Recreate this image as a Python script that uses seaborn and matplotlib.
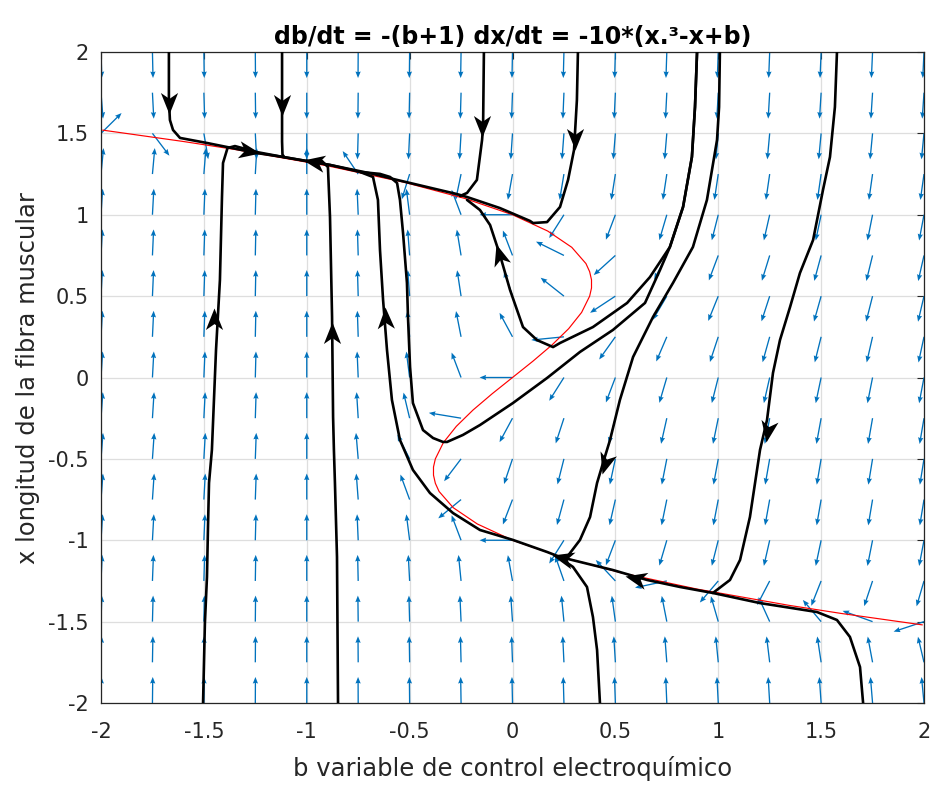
import numpy as np
import pandas as pd
import matplotlib
matplotlib.use("Agg")
import matplotlib.pyplot as plt
import seaborn as sns
from matplotlib.markers import MarkerStyle
from matplotlib.path import Path
from matplotlib.transforms import Affine2D

# ---------------- data ----------------
# grid of the direction field (b on horizontal axis, x on vertical axis)
b_grid = [-2.0, -1.75, -1.5, -1.25, -1.0, -0.75, -0.5, -0.25, 0.0,
          0.25, 0.5, 0.75, 1.0, 1.25, 1.5, 1.75, 2.0]
x_grid = [-2.0, -1.75, -1.5, -1.25, -1.0, -0.75, -0.5, -0.25, 0.0,
          0.25, 0.5, 0.75, 1.0, 1.25, 1.5, 1.75, 2.0]

# red nullcline
red_x = [1.52, 1.45, 1.4, 1.3, 1.2, 1.1, 1.0, 0.9, 0.8, 0.7, 0.65, 0.6, 0.55, 0.5,
         0.4, 0.3, 0.2, 0.1, 0.0, -0.1, -0.2, -0.3, -0.4, -0.5, -0.55, -0.6, -0.65,
         -0.7, -0.8, -0.9, -1.0, -1.1, -1.2, -1.3, -1.4, -1.45, -1.52]
red_b = [-1.992, -1.599, -1.344, -0.897, -0.528, -0.231, 0.0, 0.171, 0.288, 0.357,
         0.375, 0.384, 0.384, 0.375, 0.336, 0.273, 0.192, 0.099, 0.0, -0.099, -0.192,
         -0.273, -0.336, -0.375, -0.384, -0.384, -0.375, -0.357, -0.288, -0.171, 0.0,
         0.231, 0.528, 0.897, 1.344, 1.599, 1.992]

# black trajectories
t1_b = [-1.67, -1.67, -1.665, -1.65, -1.616, -1.485, -1.242, -1.115, -1.0]
t1_x = [2.0, 1.705, 1.582, 1.521, 1.472, 1.441, 1.379, 1.355, 1.33]

t2_b = [-1.12, -1.12, -1.118, -1.11]
t2_x = [2.0, 1.45, 1.37, 1.355]

t3_b = [-1.504, -1.495, -1.485, -1.48, -1.475, -1.461, -1.441, -1.422, -1.412, -1.407,
        -1.385, -1.349, -1.242, -1.115, -1.0]
t3_x = [-2.0, -1.508, -1.226, -0.919, -0.648, -0.445, 0.169, 0.599, 1.109, 1.318,
        1.41, 1.422, 1.385, 1.355, 1.33]

t4_b = [-0.848, -0.853, -0.863, -0.868, -0.872, -0.877, -0.887, -0.897, -0.926, -1.0]
t4_x = [-2.0, -1.103, -0.648, -0.445, -0.243, 0.372, 0.986, 1.293, 1.33, 1.33]

t5_b = [1.704, 1.689, 1.64, 1.577, 1.48, 1.203, 0.974, 0.814, 0.654, 0.488, 0.231,
        0.168, 0.002, -0.158, -0.289, -0.401, -0.484, -0.547, -0.586, -0.61, -0.629,
        -0.644, -0.654, -0.678, -0.741, -0.887, -1.0]
t5_x = [-2.0, -1.779, -1.594, -1.49, -1.441, -1.386, -1.324, -1.287, -1.244, -1.183,
        -1.103, -1.072, -0.998, -0.937, -0.833, -0.71, -0.568, -0.384, -0.138, 0.169,
        0.476, 0.783, 1.091, 1.232, 1.263, 1.306, 1.33]

t6_b = [-0.139, -0.143, -0.148, -0.173, -0.221, -0.255]
t6_x = [2.0, 1.538, 1.459, 1.214, 1.134, 1.115]

t7_b = [0.318, 0.313, 0.299, 0.27, 0.231, 0.168, 0.1, 0.085, -0.061, -0.221, -0.27,
        -0.561, -0.678, -0.887, -1.0]
t7_x = [2.0, 1.705, 1.398, 1.214, 1.048, 0.955, 0.949, 0.962, 1.041, 1.109, 1.127,
        1.214, 1.251, 1.306, 1.33]

t8_b = [0.897, 0.887, 0.872, 0.829, 0.765, 0.668, 0.557, 0.391, 0.231, 0.197, 0.119,
        0.051, -0.012, -0.061, -0.109, -0.158, -0.221]
t8_x = [2.0, 1.662, 1.355, 1.048, 0.802, 0.617, 0.458, 0.31, 0.212, 0.187, 0.23,
        0.31, 0.538, 0.753, 0.937, 1.029, 1.091]

t9_b = [0.897, 0.887, 0.872, 0.829, 0.765, 0.717, 0.644, 0.488, 0.328, 0.168, 0.002,
        -0.158, -0.241, -0.318, -0.338, -0.386, -0.435, -0.484, -0.498, -0.508, -0.513,
        -0.532, -0.547, -0.561, -0.595, -0.644, -0.741]
t9_x = [2.0, 1.662, 1.355, 1.048, 0.802, 0.661, 0.458, 0.292, 0.157, -0.003, -0.157,
        -0.292, -0.353, -0.396, -0.396, -0.372, -0.323, -0.157, 0.065, 0.372, 0.581,
        0.888, 1.091, 1.195, 1.232, 1.251, 1.263]

t10_b = [1.577, 1.567, 1.543, 1.509, 1.461, 1.397, 1.349, 1.3, 1.266, 1.237, 1.203,
         1.154, 1.106, 1.057, 0.974]
t10_x = [2.0, 1.662, 1.355, 1.152, 0.845, 0.642, 0.433, 0.23, 0.028, -0.261, -0.445,
         -0.857, -1.121, -1.244, -1.324]

t11_b = [1.008, 1.004, 0.994, 0.945, 0.877, 0.78, 0.683, 0.586, 0.522, 0.474, 0.44,
         0.411, 0.377, 0.328, 0.265, 0.231]
t11_x = [2.0, 1.662, 1.459, 1.091, 0.802, 0.581, 0.372, 0.126, -0.138, -0.384, -0.525,
         -0.648, -0.857, -0.998, -1.103, -1.109]

t12_b = [0.425, 0.411, 0.391, 0.362, 0.294, 0.231]
t12_x = [-2.0, -1.674, -1.472, -1.287, -1.164, -1.109]

# arrowheads on trajectories: tip position and direction (db, dx)
head_b = [-1.67, -1.12, -1.227, -1.018, -1.451, -0.877, -0.62, -0.148, 0.304,
          -0.08, 1.232, 0.435, 0.547, 0.192]
head_x = [1.619, 1.606, 1.379, 1.336, 0.43, 0.341, 0.433, 1.478, 1.398,
          0.82, -0.396, -0.593, -1.22, -1.09]
head_db = [0.0, 0.0, 1.0, -1.0, 0.0, 0.0, -0.03, 0.0, 0.0, -0.24, -0.13, -0.24, -1.0, -1.0]
head_dx = [-1.0, -1.0, -0.22, 0.22, 1.0, 1.0, 1.0, -1.0, -1.0, 1.0, -1.0, -1.0, 0.29, 0.33]

tick_vals = [-2, -1.5, -1, -0.5, 0, 0.5, 1, 1.5, 2]
tick_labels = ["-2", "-1.5", "-1", "-0.5", "0", "0.5", "1", "1.5", "2"]

title_text = "db/dt = -(b+1) dx/dt = -10*(x.\u00b3-x+b)"
xlabel_text = "b variable de control electroquímico"
ylabel_text = "x longitud de la fibra muscular"

# ---------------- style ----------------
sns.set_style("white")
plt.rcParams["font.family"] = ["DejaVu Sans"]
plt.rcParams["axes.unicode_minus"] = False

W, H = 934, 785
fig = plt.figure(figsize=(W / 100, H / 100), dpi=100)
ax = fig.add_axes([101 / W, 1 - 703 / H, 823 / W, 651 / H])
ax.set_xlim(-2, 2)
ax.set_ylim(-2, 2)

# grid
ax.set_xticks(tick_vals)
ax.set_yticks(tick_vals)
ax.set_xticklabels(tick_labels)
ax.set_yticklabels(tick_labels)
ax.grid(True, color="#dedede", lw=0.9, zorder=0)
ax.set_axisbelow(True)

# direction field of the system in the title
B, X = np.meshgrid(np.array(b_grid), np.array(x_grid))
U = -(B + 1.0)
V = -10.0 * (X ** 3 - X + B)
N = np.hypot(U, V)
ax.quiver(B, X, U / N, V / N, angles="xy", scale_units="xy", scale=1 / 0.16,
          color="#0072BD", width=0.0016, headwidth=4.0, headlength=5.0,
          headaxislength=4.5, pivot="tail", zorder=2)

# nullcline
sns.lineplot(x=red_b, y=red_x, sort=False, estimator=None, color="red", lw=0.85,
             ax=ax, zorder=3)

# trajectories
traj = [(t1_b, t1_x), (t2_b, t2_x), (t3_b, t3_x), (t4_b, t4_x), (t5_b, t5_x),
        (t6_b, t6_x), (t7_b, t7_x), (t8_b, t8_x), (t9_b, t9_x), (t10_b, t10_x),
        (t11_b, t11_x), (t12_b, t12_x)]
rows = []
for k, (bb, xx) in enumerate(traj):
    for i, (bv, xv) in enumerate(zip(bb, xx)):
        rows.append({"b": bv, "x": xv, "curve": k, "order": i})
df = pd.DataFrame(rows)
sns.lineplot(data=df, x="b", y="x", units="curve", estimator=None, sort=False,
             color="black", lw=1.9, ax=ax, legend=False, zorder=4)

# arrowheads
head_path = Path([(0, 0), (-2.0, 0.8), (-1.45, 0.0), (-2.0, -0.8), (0, 0)],
                 [Path.MOVETO, Path.LINETO, Path.LINETO, Path.LINETO, Path.CLOSEPOLY])
for hb, hx, db, dx in zip(head_b, head_x, head_db, head_dx):
    p0 = ax.transData.transform((hb, hx))
    p1 = ax.transData.transform((hb + 0.01 * db, hx + 0.01 * dx))
    ang = np.degrees(np.arctan2(p1[1] - p0[1], p1[0] - p0[0]))
    ms = MarkerStyle(head_path, transform=Affine2D().rotate_deg(ang))
    ax.plot([hb], [hx], marker=ms, markersize=31, color="black",
            markeredgewidth=0, linestyle="none", zorder=5)

# axes cosmetics
for s in ax.spines.values():
    s.set_color("#262626")
    s.set_linewidth(0.9)
ax.tick_params(direction="in", top=True, right=True, length=5, width=0.8,
               colors="#262626", labelsize=15)
ax.tick_params(axis="x", pad=14)
ax.tick_params(axis="y", pad=9)
ax.set_xlabel(xlabel_text, fontsize=17.5, color="#262626", labelpad=10)
ax.set_ylabel(ylabel_text, fontsize=17.5, color="#262626", labelpad=6)
ax.set_title(title_text, fontsize=17, fontweight="bold", color="black", pad=6)

fig.savefig("out.png", dpi=100)
